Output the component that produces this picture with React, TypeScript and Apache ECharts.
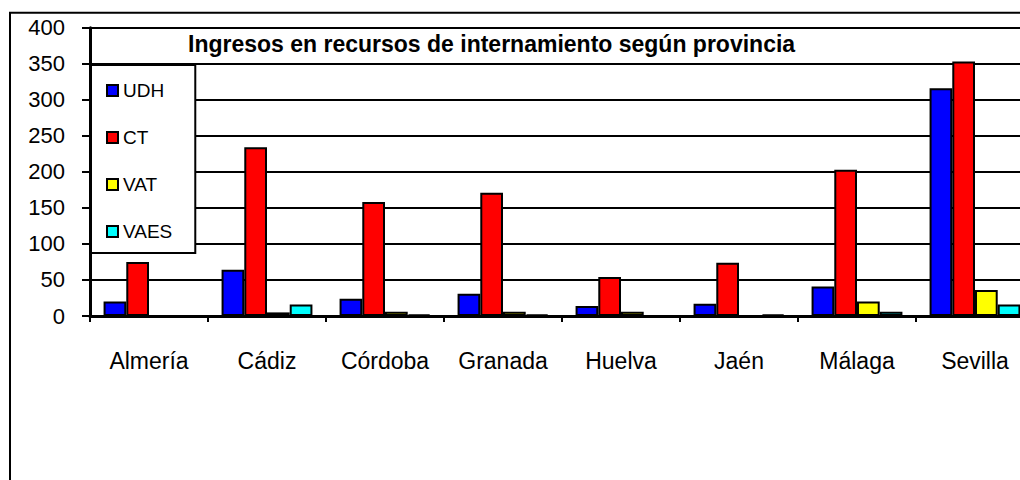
import React, { useEffect, useRef } from "react";
import * as echarts from "echarts";

const categories = ["Almería", "Cádiz", "Córdoba", "Granada", "Huelva", "Jaén", "Málaga", "Sevilla"];
const seriesNames = ["UDH", "CT", "VAT", "VAES"];
const udh = [20, 64, 24, 31, 14, 17, 41, 316];
const ct = [75, 234, 158, 171, 54, 74, 203, 353];
const vat = [0, 5, 6, 6, 6, 0, 20, 36];
const vaes = [0, 16, 2, 2, 0, 2, 6, 16];
const colors = ["#0000FF", "#FF0000", "#FFFF00", "#00FFFF"];
const titleText = "Ingresos en recursos de internamiento según provincia";

const FONT = "'Liberation Sans', Arial, sans-serif";

export default function App() {
  const ref = useRef<HTMLDivElement>(null);
  useEffect(() => {
    if (!ref.current) return;
    const chart = echarts.init(ref.current, undefined, { renderer: "svg" });
    const values = [udh, ct, vat, vaes];
    chart.setOption({
      animation: false,
      backgroundColor: "#ffffff",
      title: {
        text: titleText,
        left: 188,
        top: 32,
        padding: 0,
        textStyle: { fontFamily: FONT, fontSize: 23, fontWeight: "bold", color: "#000" },
      },
      legend: {
        orient: "vertical",
        left: 91,
        top: 65,
        padding: [16, 23, 12, 15],
        itemGap: 28,
        itemWidth: 11,
        itemHeight: 11,
        itemTextGap: 5,
        icon: "rect",
        backgroundColor: "#ffffff",
        borderColor: "#000",
        borderWidth: 2,
        data: seriesNames,
        itemStyle: { borderColor: "#000", borderWidth: 2 },
        textStyle: { fontFamily: FONT, fontSize: 19, lineHeight: 18, color: "#000" },
      },
      grid: { left: 90, right: 0, top: 27.7, bottom: 164, containLabel: false },
      xAxis: {
        type: "category",
        data: categories,
        axisLine: { show: true, lineStyle: { color: "#000", width: 3 } },
        axisTick: { show: true, length: 6, lineStyle: { color: "#000", width: 2 } },
        axisLabel: { margin: 33, fontFamily: FONT, fontSize: 23, color: "#000" },
        splitLine: { show: false },
      },
      yAxis: {
        type: "value",
        min: 0,
        max: 400,
        interval: 50,
        axisLine: { show: true, lineStyle: { color: "#000", width: 3 } },
        axisTick: { show: true, length: 8, lineStyle: { color: "#000", width: 2 } },
        axisLabel: { margin: 25, fontFamily: FONT, fontSize: 22, color: "#000" },
        splitLine: { show: true, lineStyle: { color: "#000", width: 2 } },
      },
      graphic: [
        {
          type: "polyline",
          shape: { points: [[10, 490], [10, 12.7], [1040, 12.7]] },
          style: { stroke: "#000", lineWidth: 2, fill: null },
          z: 10,
        },
      ],
      series: seriesNames.map((name, i) => ({
        name,
        type: "bar",
        data: values[i],
        barGap: "0%",
        barCategoryGap: "23%",
        itemStyle: { color: colors[i], borderColor: "#000", borderWidth: 2 },
      })),
    });
    return () => chart.dispose();
  }, []);
  return (
    <div style={{ position: "fixed", left: 0, top: 0, width: 1020, height: 480, overflow: "hidden" }}>
      <div ref={ref} style={{ width: 1034, height: 480 }} />
    </div>
  );
}
